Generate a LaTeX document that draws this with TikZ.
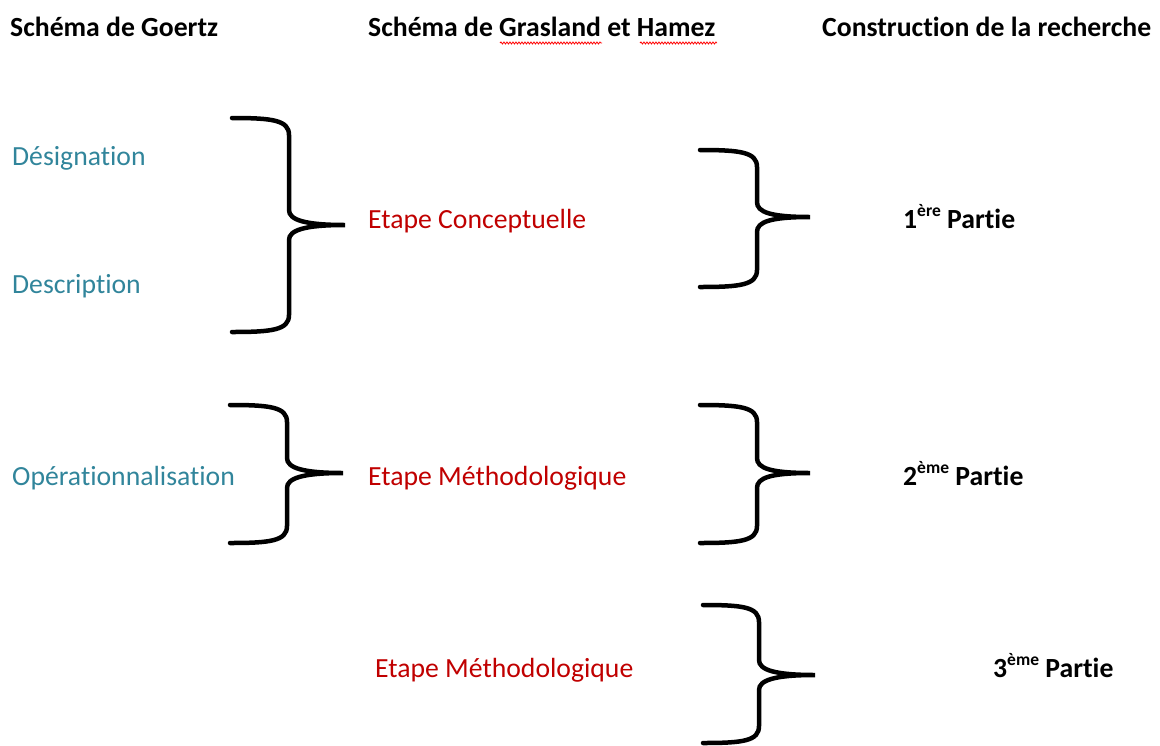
\documentclass[tikz,border=0pt]{standalone}
\usepackage{fontspec}
\setmainfont[Ligatures={NoCommon,NoRare},RawFeature={-liga;-calt;-dlig}]{Carlito}
\usepackage{xcolor}
\usepackage{tikz}
\usetikzlibrary{positioning,decorations.pathmorphing}

\definecolor{goertzteal}{RGB}{49,133,155}
\definecolor{etapered}{RGB}{192,0,0}

% brace: ends x, bar x, tip x, top y, tip y, bottom y
\newcommand{\curlybrace}[6]{%
	\draw[curly] (#1,#4) .. controls +(40,0) and +(0,-15) .. (#2,{#4+17})
		-- (#2,{#5-15}) .. controls +(0,10) and +(-40,0) .. (#3,#5)
		.. controls +(-40,0) and +(0,-10) .. (#2,{#5+15})
		-- (#2,{#6-17}) .. controls +(0,15) and +(40,0) .. (#1,#6);
}
\newcommand{\partsup}[1]{\raisebox{0.42em}{\fontsize{17.5}{17.5}\selectfont #1}}

\begin{document}
\begin{tikzpicture}[x=1pt, y=-1pt,
	txt/.style={inner sep=0pt, anchor=base west, font=\fontsize{27.7}{33}\selectfont},
	head/.style={txt, font=\fontsize{27.7}{33}\selectfont\bfseries},
	goertz/.style={txt, text=goertzteal},
	etape/.style={txt, text=etapered},
	partie/.style={head},
	curly/.style={line width=4.5pt, line cap=round},
	squiggle/.style={draw=red, line width=0.8pt, decorate,
		decoration={snake, amplitude=1pt, segment length=3pt}}]
	\useasboundingbox (0,0) rectangle (1160,745);

	% headers
	\node[head] (h1) at (10,36) {Schéma de Goertz};
	\node[head] (h2) at (368,36) {Schéma de Grasland et Hamez};
	\node[head] (h3) at (822,36) {Construction de la recherche};
	\draw[squiggle] (500,43) -- (602,43);
	\draw[squiggle] (640,43) -- (717,43);

	% left column
	\node[goertz] (g1) at (12,165) {Désignation};
	\node[goertz] (g2) at (12,293) {Description};
	\node[goertz] (g3) at (12,485) {Opérationnalisation};

	% middle column
	\node[etape] (e1) at (368,228) {Etape Conceptuelle};
	\node[etape] (e2) at (368,485) {Etape Méthodologique};
	\node[etape] (e3) at (375,677) {Etape Méthodologique};

	% right column
	\node[partie] (p1) at (903,228) {1\partsup{ère} Partie};
	\node[partie] (p2) at (903,485) {2\partsup{ème} Partie};
	\node[partie] (p3) at (993,677) {3\partsup{ème} Partie};

	% braces
	\curlybrace{232}{289}{345}{118}{225}{332}
	\curlybrace{700}{757}{810}{150}{217}{287}
	\curlybrace{230}{287}{343}{405}{473}{543}
	\curlybrace{700}{757}{810}{405}{473}{543}
	\curlybrace{703}{759}{815}{605}{675}{743}
\end{tikzpicture}
\end{document}
